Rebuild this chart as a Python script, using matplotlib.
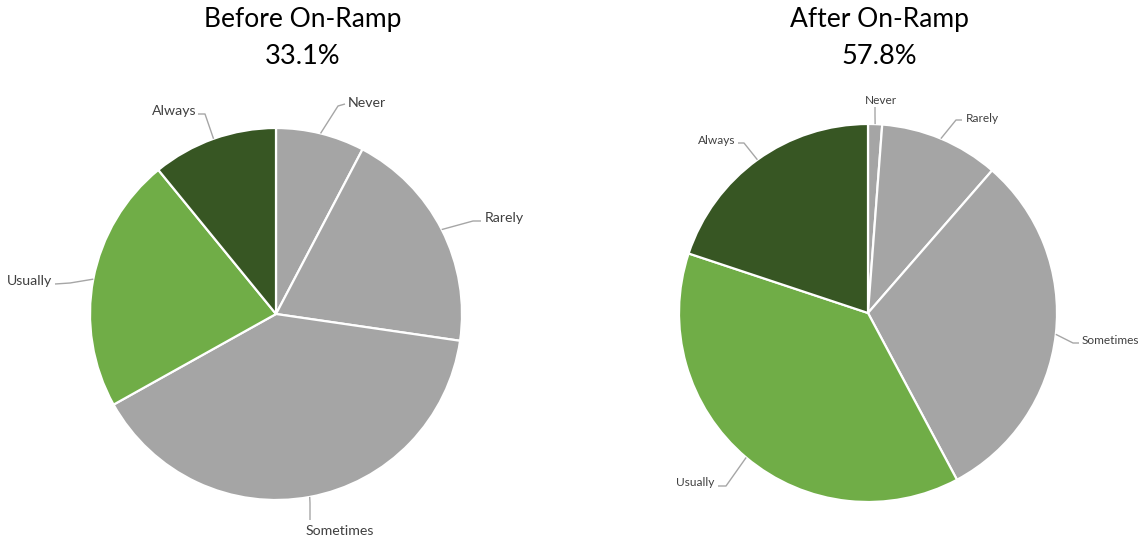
import matplotlib
matplotlib.use("Agg")
import matplotlib.pyplot as plt
import numpy as np

# Survey responses (% of respondents) before and after the On-Ramp program
categories = ["Never", "Rarely", "Sometimes", "Usually", "Always"]
before_values = [7.7, 19.6, 39.6, 22.2, 10.9]
after_values = [1.2, 10.2, 30.8, 37.9, 19.9]
before_title = "Before On-Ramp"
after_title = "After On-Ramp"
before_share = "33.1%"
after_share = "57.8%"

colors = ["#A5A5A5", "#A5A5A5", "#A5A5A5", "#70AD47", "#375623"]

W, H = 1142, 540
plt.rcParams["font.family"] = ["Lato", "DejaVu Sans"]

fig = plt.figure(figsize=(W / 100, H / 100), dpi=100)
ax = fig.add_axes([0, 0, 1, 1])


def Y(y):
    # layout positions are measured from the top of the canvas
    return H - y


# label layout per pie: (elbow, end of leader, text position, ha)
left_layout = {
    "Never": [(338, 106), (345, 104), (348, 103), "left"],
    "Rarely": [(473, 221), (481, 221), (485, 218), "left"],
    "Sometimes": [(310, 503), (310, 520), (340, 531), "center"],
    "Usually": [(70, 283), (55, 284), (52, 281), "right"],
    "Always": [(205, 114), (198, 114), (196, 111), "right"],
}
right_layout = {
    "Never": [(875, 115), (875, 107), (881, 100), "center"],
    "Rarely": [(956, 120), (962, 120), (966, 118), "left"],
    "Sometimes": [(1073, 343), (1079, 343), (1082, 340), "left"],
    "Usually": [(726, 486), (718, 486), (714, 483), "right"],
    "Always": [(744, 143), (738, 143), (735, 140), "right"],
}

pies = [
    (before_values, (276, 314), 186, before_title, before_share, 303, left_layout, 10.2),
    (after_values, (868, 313), 189, after_title, after_share, 879, right_layout, 8.6),
]

line_color = "#A6A6A6"
text_color = "#404040"

for values, (cx, cy), r, title, share, tx, layout, lsize in pies:
    wedges, _ = ax.pie(
        values,
        colors=colors,
        startangle=90,
        counterclock=False,
        center=(cx, Y(cy)),
        radius=r,
        wedgeprops=dict(edgecolor="white", linewidth=1.6),
    )
    for w, cat in zip(wedges, categories):
        mid = np.deg2rad((w.theta1 + w.theta2) / 2)
        ex = cx + r * np.cos(mid)
        ey = Y(cy) + r * np.sin(mid)
        (elx, ely), (enx, eny), (lx, ly), ha = layout[cat]
        ax.plot([ex, elx, enx], [ey, Y(ely), Y(eny)], color=line_color,
                lw=1.0, solid_capstyle="butt", zorder=3)
        ax.text(lx, Y(ly), cat, ha=ha, va="center", fontsize=lsize,
                color=text_color)
    ax.text(tx, Y(20), title, ha="center", va="center", fontsize=19,
            color="black")
    ax.text(tx, Y(57), share, ha="center", va="center", fontsize=19.5,
            color="black")

ax.set_xlim(0, W)
ax.set_ylim(0, H)
ax.set_aspect("equal")
ax.axis("off")

fig.savefig("out.png", dpi=100, facecolor="white")
